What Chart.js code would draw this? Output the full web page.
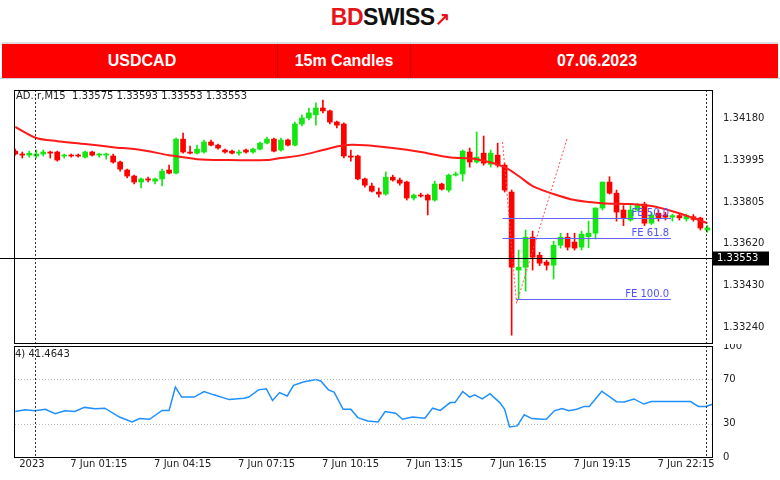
<!DOCTYPE html>
<html><head><meta charset="utf-8">
<script src="https://cdn.jsdelivr.net/npm/chart.js@4"></script>
<style>
body{margin:0;width:780px;height:480px;background:#fff;overflow:hidden;font-family:"DejaVu Sans",sans-serif;position:relative}
#logo{position:absolute;top:4px;left:0;width:780px;text-align:center;font:bold 23px "Liberation Sans",Arial,sans-serif;letter-spacing:-0.5px}
#bar{position:absolute;top:42px;left:2px;width:776px;height:35px;background:#ff0000;border-top:2px solid #ddd;color:#fff;font:bold 16px "Liberation Sans",Arial,sans-serif}
#bar div{position:absolute;top:8px;text-align:center}
.sep{position:absolute;top:0;width:1px;height:35px;background:#c00000}
canvas{position:absolute;left:0}
.lbl{position:absolute;font:10px "DejaVu Sans",sans-serif;color:#222}
</style></head><body>
<div id="logo"><span style="color:#e8141c">BD</span><span style="color:#111">SWISS</span><span style="color:#e8141c;font-size:18px">&#x2197;</span></div>
<div id="bar"><div style="left:60px;width:160px">USDCAD</div><span class="sep" style="left:275px"></span><div style="left:276px;width:132px">15m Candles</div><span class="sep" style="left:408px"></span><div style="left:490px;width:210px">07.06.2023</div></div>
<div style="position:absolute;left:0;top:78px;width:780px;height:1px;background:#ccc"></div>
<canvas id="main" width="780" height="257" style="top:88px;width:780px;height:257px"></canvas>
<canvas id="rsi" width="780" height="134" style="top:344px;width:780px;height:134px"></canvas>
<div class="lbl" style="left:16px;top:90px">AD.:r,M15&nbsp; 1.33575 1.33593 1.33553 1.33553</div>
<div class="lbl" style="left:15px;top:348px">4) 41.4643</div>
<script>
const opens =[1.34035,1.34022,1.34017,1.34013,1.34022,1.34031,1.34031,1.34013,1.34017,1.34017,1.34008,1.34031,1.34017,1.34017,1.34013,1.33986,1.33950,1.33923,1.33896,1.33910,1.33900,1.33910,1.33950,1.33936,1.34089,1.34031,1.34026,1.34031,1.34076,1.34062,1.34040,1.34035,1.34026,1.34040,1.34031,1.34044,1.34071,1.34089,1.34040,1.34085,1.34062,1.34157,1.34184,1.34198,1.34229,1.34216,1.34166,1.34157,1.34013,1.34013,1.33910,1.33878,1.33851,1.33842,1.33918,1.33905,1.33896,1.33824,1.33837,1.33837,1.33815,1.33887,1.33860,1.33927,1.33932,1.34031,1.33986,1.34026,1.33976,1.34017,1.33972,1.33851,1.33500,1.33513,1.33648,1.33567,1.33536,1.33522,1.33612,1.33648,1.33626,1.33603,1.33650,1.33666,1.33779,1.33896,1.33846,1.33770,1.33725,1.33770,1.33797,1.33711,1.33756,1.33748,1.33738,1.33745,1.33730,1.33740,1.33734,1.33680];
const highs =[1.34044,1.34031,1.34035,1.34040,1.34040,1.34035,1.34035,1.34022,1.34022,1.34022,1.34035,1.34035,1.34026,1.34026,1.34022,1.33990,1.33954,1.33927,1.33914,1.33918,1.33914,1.33954,1.33972,1.34094,1.34116,1.34058,1.34062,1.34085,1.34085,1.34067,1.34044,1.34040,1.34040,1.34044,1.34049,1.34076,1.34098,1.34094,1.34094,1.34089,1.34166,1.34198,1.34229,1.34252,1.34265,1.34220,1.34170,1.34162,1.34040,1.34017,1.33914,1.33891,1.33869,1.33941,1.33927,1.33914,1.33900,1.33842,1.33846,1.33842,1.33900,1.33891,1.33932,1.33941,1.34040,1.34049,1.34121,1.34103,1.34040,1.34071,1.33981,1.33860,1.33590,1.33680,1.33675,1.33580,1.33545,1.33630,1.33666,1.33666,1.33666,1.33675,1.33720,1.33780,1.33896,1.33920,1.33860,1.33790,1.33790,1.33800,1.33805,1.33760,1.33770,1.33760,1.33752,1.33755,1.33752,1.33750,1.33738,1.33700];
const lows  =[1.34017,1.34004,1.34008,1.34004,1.34013,1.34004,1.33990,1.34004,1.34008,1.34008,1.34004,1.34013,1.34008,1.33999,1.33981,1.33945,1.33914,1.33887,1.33869,1.33896,1.33887,1.33878,1.33932,1.33932,1.34026,1.34022,1.34022,1.34026,1.34058,1.34044,1.34026,1.34022,1.34017,1.34026,1.34026,1.34040,1.34067,1.34031,1.34035,1.34058,1.34058,1.34148,1.34175,1.34152,1.34207,1.34157,1.34139,1.34004,1.33990,1.33905,1.33873,1.33851,1.33828,1.33837,1.33900,1.33882,1.33815,1.33815,1.33828,1.33748,1.33810,1.33860,1.33851,1.33923,1.33900,1.33963,1.33981,1.33972,1.33963,1.33963,1.33851,1.33207,1.33370,1.33405,1.33500,1.33520,1.33500,1.33460,1.33599,1.33590,1.33590,1.33590,1.33600,1.33640,1.33770,1.33842,1.33720,1.33700,1.33720,1.33765,1.33700,1.33705,1.33720,1.33725,1.33720,1.33725,1.33720,1.33720,1.33680,1.33670];
const closes=[1.34022,1.34017,1.34026,1.34022,1.34031,1.34026,1.33995,1.34017,1.34013,1.34013,1.34031,1.34017,1.34022,1.34022,1.33986,1.33954,1.33923,1.33896,1.33910,1.33905,1.33910,1.33945,1.33936,1.34089,1.34031,1.34026,1.34044,1.34076,1.34062,1.34049,1.34031,1.34026,1.34031,1.34031,1.34044,1.34071,1.34089,1.34035,1.34085,1.34062,1.34157,1.34184,1.34207,1.34229,1.34216,1.34166,1.34152,1.34013,1.34008,1.33910,1.33882,1.33855,1.33842,1.33918,1.33905,1.33891,1.33824,1.33837,1.33833,1.33815,1.33887,1.33864,1.33927,1.33932,1.34035,1.33986,1.34008,1.33981,1.34026,1.33972,1.33860,1.33513,1.33513,1.33648,1.33558,1.33531,1.33522,1.33612,1.33648,1.33603,1.33599,1.33662,1.33666,1.33779,1.33896,1.33846,1.33761,1.33734,1.33770,1.33792,1.33711,1.33748,1.33734,1.33738,1.33745,1.33735,1.33745,1.33728,1.33689,1.33690];
const maIdx=[0,3,6,10,14,18,22,26,30,36,38,41,44,47,50,54,58,62,66,70,72,74,77,80,84,88,91,94,97,99];
const maVal=[1.34144,1.34094,1.34080,1.34067,1.34053,1.34040,1.34017,1.33999,1.33995,1.33995,1.34004,1.34017,1.34040,1.34062,1.34062,1.34049,1.34031,1.34008,1.33999,1.33963,1.33923,1.33878,1.33842,1.33815,1.33801,1.33797,1.33788,1.33765,1.33734,1.33711];
const rsiIdx=[0,1.4,2.8,4.3,5.7,7.1,8.5,9.9,11.4,12.8,14.9,16.7,17.8,19.2,21,22,22.9,23.8,25.6,27,28.4,30.6,32.7,33.4,34.8,35.9,36.8,37.8,38.9,39.8,41.2,43,43.7,44.8,45.6,46.9,48,49,50.4,51.9,52.9,54.4,55.4,56.8,58.6,59.7,60.8,62.2,62.9,64,65,65.7,66.8,67.9,69.3,70,70.7,71.8,72.8,73.9,75.3,76,77.1,78.2,79.2,80.3,81.4,82.1,83.9,86,87.1,88.5,89.9,91,96.6,97.7,98.8,99.8];
const rsiVal=[41,42.5,41.6,43,39,41.6,41,44.7,43.5,44,36,31.5,34.6,34,42,42,63,54,54,59,56,51.7,53,54,60.5,61.5,51,58,55,64.5,67.5,69.7,68.5,60.5,58.4,43,43,35.5,32.4,31.5,41,39.5,34,36,35,44,42,49,49,59,54,56,52.3,57,49,43,27,28,38,34.6,34,34.3,41.6,43.7,41.6,43,45.6,45.6,59.3,49.8,49.5,52.3,47.7,50,50,45.6,45.6,47.7];
const priceTicks=[1.34180,1.33995,1.33805,1.33620,1.33430,1.33240];
const rsiTicks=[100,70,30,0];
const timeTickIdx=[-2.3,5,17,29,41,53,65,77,89];
const timeLabels=["2023","7 Jun 01:15","7 Jun 04:15","7 Jun 07:15","7 Jun 10:15","7 Jun 13:15","7 Jun 16:15","7 Jun 19:15","7 Jun 22:15"];
const lastPrice=1.33553;
const feLevels=[1.33734,1.33644,1.33370];
const feLabels=["FE 50.0","FE 61.8","FE 100.0"];
const feStartIdx=[69.7,69.7,71.6];
const feEndIdx=93.8;
const fibIdx=[69.7,71.7,79];
const fibVal=[1.34076,1.33350,1.34098];
const vLines=[0,95.9];

const XMIN=-2.9, XMAX=96.8;
const shift=2.86;
const candleX=opens.map((_,i)=>i-shift);
const col=opens.map((o,i)=>closes[i]>=o?'#14e614':'#ff0000');
const font={family:'DejaVu Sans',size:10};
const noPad=s=>{s.paddingTop=0;s.paddingBottom=0;};

const overlay={id:'ov',afterDatasetsDraw(c,a,o){
  const {ctx,chartArea:ar,scales}=c;const x=scales.x,y=scales.y;
  ctx.save();
  ctx.setLineDash([2,2]);ctx.strokeStyle='#333';ctx.lineWidth=1;
  vLines.forEach(v=>{const px=Math.round(x.getPixelForValue(v))+.5;ctx.beginPath();ctx.moveTo(px,ar.top);ctx.lineTo(px,ar.bottom);ctx.stroke();});
  ctx.setLineDash([]);
  if(o.main){
    ctx.strokeStyle='#6464ff';ctx.fillStyle='#5050ff';ctx.font='10px DejaVu Sans';ctx.textAlign='right';
    feLevels.forEach((v,i)=>{const py=Math.round(y.getPixelForValue(v))+.5;const x0=x.getPixelForValue(feStartIdx[i]-shift),x1=x.getPixelForValue(feEndIdx-shift);
      ctx.beginPath();ctx.moveTo(x0,py);ctx.lineTo(x1,py);ctx.stroke();ctx.fillText(feLabels[i],x1-2,py-3);});
    const py=Math.round(y.getPixelForValue(lastPrice))+.5;
    ctx.strokeStyle='#000';ctx.beginPath();ctx.moveTo(0,py);ctx.lineTo(ar.right,py);ctx.stroke();
    ctx.fillStyle='#000';ctx.fillRect(ar.right+1,py-7,56,14);ctx.fillStyle='#fff';ctx.textAlign='left';ctx.textBaseline='middle';ctx.fillText(lastPrice.toFixed(5),ar.right+5,py);
  } else {
    ctx.setLineDash([1,2]);ctx.strokeStyle='#bbb';
    [70,30].forEach(v=>{const py=Math.round(y.getPixelForValue(v))+.5;ctx.beginPath();ctx.moveTo(ar.left,py);ctx.lineTo(ar.right,py);ctx.stroke();});
    ctx.setLineDash([]);
  }
  ctx.strokeStyle='#000';ctx.lineWidth=1;ctx.strokeRect(ar.left-.5,ar.top+.5,ar.right-ar.left+1,ar.bottom-ar.top);
  ctx.restore();
}};

new Chart(document.getElementById('main'),{
  type:'bar',
  data:{datasets:[
    {type:'bar',data:candleX.map((x,i)=>({x,y:[lows[i],highs[i]]})),backgroundColor:col,barThickness:1,grouped:false,order:3},
    {type:'bar',data:candleX.map((x,i)=>({x,y:[opens[i],closes[i]]})),backgroundColor:col,barThickness:5,minBarLength:1,grouped:false,order:2},
    {type:'line',data:maIdx.map((x,i)=>({x:x-shift,y:maVal[i]})),borderColor:'#ff1a1a',borderWidth:2,pointRadius:0,tension:0.3,order:1},
    {type:'line',data:fibIdx.map((x,i)=>({x:x-shift,y:fibVal[i]})),borderColor:'#ff5050',borderWidth:1,borderDash:[2,2],pointRadius:0,order:1}
  ]},
  options:{responsive:false,animation:false,devicePixelRatio:1,
    layout:{padding:{left:15,top:2,right:0,bottom:2}},
    plugins:{legend:{display:false},tooltip:{enabled:false},ov:{main:true}},
    scales:{
      x:{type:'linear',min:XMIN,max:XMAX,display:false,offset:false},
      y:{position:'right',min:1.33172,max:1.34310,grid:{display:false},border:{display:false},
        afterBuildTicks:s=>{s.ticks=priceTicks.map(v=>({value:v}));},
        afterFit:s=>{s.width=68;noPad(s);},
        ticks:{font,color:'#222',padding:3,callback:v=>v.toFixed(5)}}
    }},
  plugins:[overlay]
});

new Chart(document.getElementById('rsi'),{
  type:'line',
  data:{datasets:[{data:rsiIdx.map((x,i)=>({x:x-shift,y:rsiVal[i]})),borderColor:'#1e90ff',borderWidth:1.5,pointRadius:0,tension:0}]},
  options:{responsive:false,animation:false,devicePixelRatio:1,
    layout:{padding:{left:15,top:2,right:0,bottom:0}},
    plugins:{legend:{display:false},tooltip:{enabled:false},ov:{main:false}},
    scales:{
      x:{type:'linear',min:XMIN,max:XMAX,grid:{display:false,drawTicks:false},border:{display:false},
        afterBuildTicks:s=>{s.ticks=timeTickIdx.map(v=>({value:v}));},
        afterFit:s=>{s.height=21;s.paddingLeft=0;s.paddingRight=0;},
        ticks:{font,color:'#222',align:'start',maxRotation:0,autoSkip:false,padding:1,callback:(v,i)=>timeLabels[i]}},
      y:{position:'right',min:0,max:100,grid:{display:false},border:{display:false},
        afterBuildTicks:s=>{s.ticks=rsiTicks.map(v=>({value:v}));},
        afterFit:s=>{s.width=68;noPad(s);},
        ticks:{font,color:'#222',padding:3}}
    }},
  plugins:[overlay]
});
</script>
</body></html>
